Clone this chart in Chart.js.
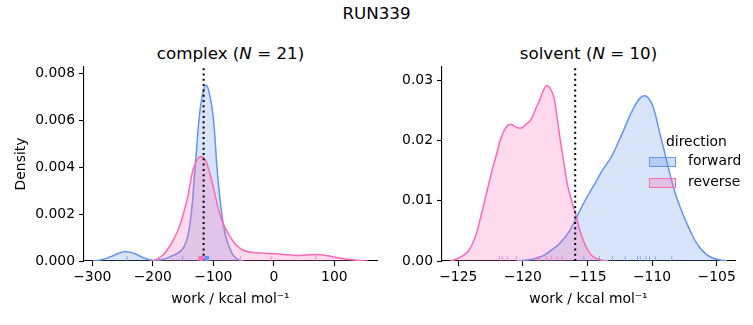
<!DOCTYPE html>
<html>
<head>
<meta charset="utf-8">
<script src="https://cdn.jsdelivr.net/npm/chart.js@4.4.1/dist/chart.umd.min.js"></script>
<style>
  body { margin: 0; width: 753px; height: 325px; background: #fff; position: relative; overflow: hidden;
         font-family: "DejaVu Sans", sans-serif; color: #000; }
  canvas { position: absolute; top: 0; }
  .txt { position: absolute; white-space: nowrap; line-height: 1; }
  .big { font-size: 16.7px; transform: translateX(-50%); }
  .small { font-size: 13.9px; }
  .sw { position: absolute; width: 25px; height: 8px; }
</style>
</head>
<body>
<div class="txt big" style="left:376.5px; top:5px">RUN339</div>
<div class="txt big" style="left:230.5px; top:45px">complex (<i>N</i> = 21)</div>
<div class="txt big" style="left:588.5px; top:45px">solvent (<i>N</i> = 10)</div>

<canvas id="complex" width="390" height="325" style="left:0"></canvas>
<canvas id="solvent" width="373" height="325" style="left:380px"></canvas>

<div class="txt small" style="left:666px; top:135px">direction</div>
<div class="sw" style="left:649px; top:157px; background:rgba(100,149,237,0.3); border:1px solid #6495ed"></div>
<div class="txt small" style="left:688px; top:154px">forward</div>
<div class="sw" style="left:649px; top:178px; background:rgba(255,105,180,0.3); border:1px solid #ff69b4"></div>
<div class="txt small" style="left:688px; top:175px">reverse</div>

<script>
// ---- complex (N = 21) ----
const complexFwdX = [-300, -285, -270, -255, -243, -230, -215, -200, -185, -170, -155, -145, -137, -130, -123, -117, -111.5, -106, -100, -93, -86, -80, -73, -66, -58, -50];
const complexFwdY = [0, 0.00005, 0.00018, 0.00034, 0.00040, 0.00032, 0.00013, 0.00003, 0.00006, 0.00020, 0.00040, 0.00080, 0.00190, 0.00400, 0.00620, 0.00720, 0.00750, 0.00710, 0.00610, 0.00370, 0.00200, 0.00110, 0.00055, 0.00020, 0.00005, 0];
const complexRevX = [-205, -195, -182, -172, -163, -155, -148, -142, -134, -126, -119, -112, -103, -96, -90, -82, -73, -63, -52, -40, -25, -5, 15, 35, 55, 72, 90, 105, 125, 145, 155];
const complexRevY = [0, 0.00005, 0.00029, 0.00064, 0.00105, 0.00155, 0.00215, 0.00277, 0.00385, 0.00435, 0.00445, 0.00425, 0.00348, 0.00270, 0.00206, 0.00150, 0.00107, 0.00070, 0.00048, 0.00038, 0.00035, 0.00032, 0.00028, 0.00024, 0.00026, 0.00028, 0.00022, 0.00014, 0.00006, 0.00001, 0];
const complexFwdRug = [-242.6, -150.6, -114.2, -113.9, -113.5, -113.1, -112.8, -112.4, -112.1, -111.7, -111.4, -111.0, -110.7, -110.3, -110.0, -109.6, -109.3, -108.9, -108.6, -108.2, -107.5];
const complexRevRug = [-123.8, -123.1, -122.6, -122.2, -121.7, -121.3, -120.9, -120.6, -120.2, -119.8, -119.5, -119.1, -118.8, -118.4, -118.0, -117.7, -117.3, -116.9, -55.4, -4.3, 69.3];
const complexMark = -116;
const complexXTicks = [-300, -200, -100, 0, 100];
const complexYTicks = [0, 0.002, 0.004, 0.006, 0.008];

// ---- solvent (N = 10) ----
const solventFwdX = [-120.5, -119.3, -118.5, -117.8, -117.2, -116.5, -115.9, -115.2, -114.6, -113.8, -113.2, -112.7, -112.2, -111.7, -111.1, -110.7, -110.3, -109.9, -109.4, -109.0, -108.6, -108.2, -107.8, -107.3, -106.8, -106.3, -105.8, -105.3, -104.8, -104.2];
const solventFwdY = [0, 0.0003, 0.0008, 0.0018, 0.0028, 0.0046, 0.0070, 0.0100, 0.0122, 0.0152, 0.0171, 0.0193, 0.0217, 0.0242, 0.0266, 0.0274, 0.0271, 0.0255, 0.0212, 0.0178, 0.0143, 0.0112, 0.0088, 0.0062, 0.0039, 0.0022, 0.0011, 0.0005, 0.0002, 0];
const solventRevX = [-125.6, -125.2, -124.7, -124.2, -123.7, -123.3, -122.9, -122.4, -122.0, -121.7, -121.3, -120.95, -120.5, -120.1, -119.7, -119.4, -119.0, -118.7, -118.4, -118.15, -117.9, -117.6, -117.35, -117.1, -116.8, -116.55, -116.2, -115.9, -115.6, -115.3, -115.0, -114.7, -114.3, -113.8, -113.4];
const solventRevY = [0, 0.0003, 0.0008, 0.0017, 0.0039, 0.0070, 0.0105, 0.0149, 0.0180, 0.0204, 0.0222, 0.0227, 0.0222, 0.0221, 0.0228, 0.0234, 0.0253, 0.0267, 0.0284, 0.0291, 0.0287, 0.0272, 0.0238, 0.0200, 0.0160, 0.0127, 0.0098, 0.0077, 0.0052, 0.0033, 0.0019, 0.0010, 0.0004, 0.0001, 0];
const solventFwdRug = [-115.28, -114.07, -113.06, -112.08, -111.13, -110.92, -110.46, -110.2, -109.76, -108.47];
const solventRevRug = [-121.81, -121.6, -121.21, -120.5, -118.84, -118.71, -118.2, -117.81, -117.35, -116.96];
const solventMark = -115.95;
const solventXTicks = [-125, -120, -115, -110, -105];
const solventYTicks = [0, 0.01, 0.02, 0.03];

const FWD = '#6495ed';
const REV = '#ff69b4';
const FONT = 'DejaVu Sans';

function pts(xs, ys) {
    return xs.map((x, i) => ({ x: x, y: ys[i] }));
}

function curve(xs, ys, color, fill) {
    return {
        data: pts(xs, ys),
        borderColor: color,
        backgroundColor: fill,
        borderWidth: 1.5,
        fill: 'origin',
        pointRadius: 0,
        tension: 0.4,
        order: 1
    };
}

function makeChart(id, c) {
    // rug ticks along the bottom, 2.5% of the axes height
    const rug = {
        id: 'rug',
        afterDatasetsDraw(chart) {
            const { ctx, chartArea, scales } = chart;
            const h = (chartArea.bottom - chartArea.top) * 0.025;
            ctx.save();
            ctx.lineWidth = 1;
            ctx.globalAlpha = 0.75;
            c.rugs.forEach(set => {
                ctx.strokeStyle = set.color;
                set.values.forEach(v => {
                    const px = scales.x.getPixelForValue(v);
                    ctx.beginPath();
                    ctx.moveTo(px, chartArea.bottom);
                    ctx.lineTo(px, chartArea.bottom - h);
                    ctx.stroke();
                });
            });
            ctx.restore();
        }
    };

    const tickFont = { family: FONT, size: 13.9 };

    return new Chart(document.getElementById(id), {
        type: 'line',
        data: {
            datasets: [
                {
                    data: [{ x: c.mark, y: 0 }, { x: c.mark, y: c.yMax }],
                    borderColor: '#000',
                    borderWidth: 2,
                    borderDash: [2, 3.3],
                    fill: false,
                    pointRadius: 0,
                    order: 0
                },
                curve(c.revX, c.revY, REV, 'rgba(255,105,180,0.25)'),
                curve(c.fwdX, c.fwdY, FWD, 'rgba(100,149,237,0.25)')
            ]
        },
        options: {
            responsive: false,
            animation: false,
            layout: { padding: { left: 0, top: 67, right: c.padRight, bottom: 0 } },
            plugins: { legend: { display: false }, tooltip: { enabled: false } },
            scales: {
                x: {
                    type: 'linear',
                    min: c.xMin,
                    max: c.xMax,
                    afterBuildTicks: s => { s.ticks = c.xTicks.map(v => ({ value: v })); },
                    afterFit: s => { s.height = 64; },
                    ticks: {
                        font: tickFont, color: '#000', padding: 3, maxRotation: 0, autoSkip: false,
                        callback: v => String(v).replace('-', '\u2212')
                    },
                    grid: { drawOnChartArea: false, drawTicks: true, tickLength: 5, tickColor: '#000', tickWidth: 1.1 },
                    border: { display: true, color: '#000', width: 1.1 },
                    title: {
                        display: true, text: 'work / kcal mol\u207b\u00b9', color: '#000',
                        font: tickFont, padding: { top: 0, bottom: 17 }
                    }
                },
                y: {
                    type: 'linear',
                    min: 0,
                    max: c.yMax,
                    afterBuildTicks: s => { s.ticks = c.yTicks.map(v => ({ value: v })); },
                    afterFit: s => { s.width = c.yWidth; },
                    ticks: {
                        font: tickFont, color: '#000', padding: 4,
                        callback: v => v.toFixed(c.digits)
                    },
                    grid: { drawOnChartArea: false, drawTicks: true, tickLength: 5, tickColor: '#000', tickWidth: 1.1 },
                    border: { display: true, color: '#000', width: 1.1 },
                    title: {
                        display: c.yTitle !== '', text: c.yTitle, color: '#000',
                        font: tickFont, padding: { top: 13.4, bottom: 0 }
                    }
                }
            }
        },
        plugins: [rug]
    });
}

makeChart('complex', {
    fwdX: complexFwdX, fwdY: complexFwdY, revX: complexRevX, revY: complexRevY,
    rugs: [{ color: FWD, values: complexFwdRug }, { color: REV, values: complexRevRug }],
    mark: complexMark, xTicks: complexXTicks, yTicks: complexYTicks,
    xMin: -313.7, xMax: 170.5, yMax: 0.00828, digits: 3,
    yWidth: 84, padRight: 13, yTitle: 'Density'
});

makeChart('solvent', {
    fwdX: solventFwdX, fwdY: solventFwdY, revX: solventRevX, revY: solventRevY,
    rugs: [{ color: FWD, values: solventFwdRug }, { color: REV, values: solventRevRug }],
    mark: solventMark, xTicks: solventXTicks, yTicks: solventYTicks,
    xMin: -126.26, xMax: -103.58, yMax: 0.0322, digits: 2,
    yWidth: 62, padRight: 18, yTitle: ''
});
</script>
</body>
</html>
